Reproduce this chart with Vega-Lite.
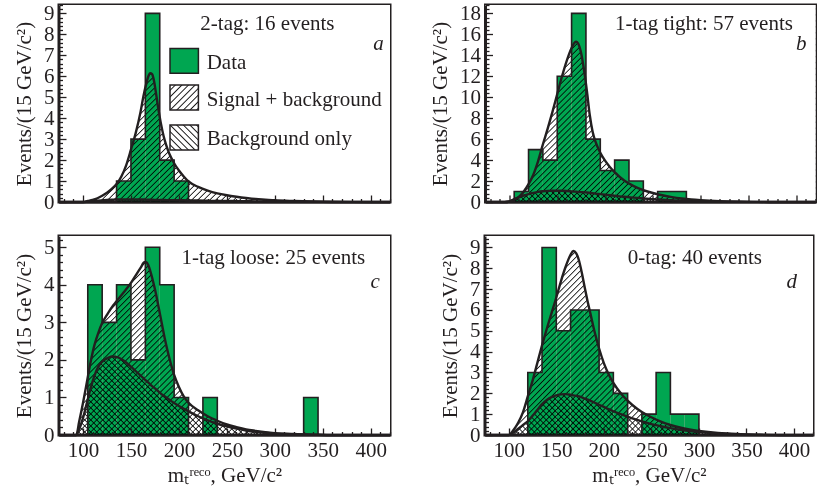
{
"$schema":"https://vega.github.io/schema/vega-lite/v6.json",
"background":"white",
"padding":{"left":12,"top":0,"right":2,"bottom":2},
"params":[
{"name":"hatchA","value":{"gradient":"linear","x1":0,"y1":0,"x2":1.335,"y2":0.799,"stops":[
{"offset":0,"color":"transparent"},{"offset":0.006,"color":"transparent"},{"offset":0.008,"color":"#1a1a1a"},
{"offset":0.01,"color":"transparent"},{"offset":0.016,"color":"transparent"},{"offset":0.018,"color":"#1a1a1a"},
{"offset":0.02,"color":"transparent"},{"offset":0.026,"color":"transparent"},{"offset":0.028,"color":"#1a1a1a"},
{"offset":0.03,"color":"transparent"},{"offset":0.036,"color":"transparent"},{"offset":0.038,"color":"#1a1a1a"},
{"offset":0.04,"color":"transparent"},{"offset":0.046,"color":"transparent"},{"offset":0.048,"color":"#1a1a1a"},
{"offset":0.05,"color":"transparent"},{"offset":0.056,"color":"transparent"},{"offset":0.058,"color":"#1a1a1a"},
{"offset":0.06,"color":"transparent"},{"offset":0.066,"color":"transparent"},{"offset":0.068,"color":"#1a1a1a"},
{"offset":0.07,"color":"transparent"},{"offset":0.076,"color":"transparent"},{"offset":0.078,"color":"#1a1a1a"},
{"offset":0.08,"color":"transparent"},{"offset":0.086,"color":"transparent"},{"offset":0.088,"color":"#1a1a1a"},
{"offset":0.09,"color":"transparent"},{"offset":0.096,"color":"transparent"},{"offset":0.098,"color":"#1a1a1a"},
{"offset":0.1,"color":"transparent"},{"offset":0.106,"color":"transparent"},{"offset":0.108,"color":"#1a1a1a"},
{"offset":0.11,"color":"transparent"},{"offset":0.116,"color":"transparent"},{"offset":0.118,"color":"#1a1a1a"},
{"offset":0.12,"color":"transparent"},{"offset":0.126,"color":"transparent"},{"offset":0.128,"color":"#1a1a1a"},
{"offset":0.13,"color":"transparent"},{"offset":0.136,"color":"transparent"},{"offset":0.138,"color":"#1a1a1a"},
{"offset":0.14,"color":"transparent"},{"offset":0.146,"color":"transparent"},{"offset":0.148,"color":"#1a1a1a"},
{"offset":0.15,"color":"transparent"},{"offset":0.156,"color":"transparent"},{"offset":0.158,"color":"#1a1a1a"},
{"offset":0.16,"color":"transparent"},{"offset":0.166,"color":"transparent"},{"offset":0.168,"color":"#1a1a1a"},
{"offset":0.17,"color":"transparent"},{"offset":0.176,"color":"transparent"},{"offset":0.178,"color":"#1a1a1a"},
{"offset":0.18,"color":"transparent"},{"offset":0.186,"color":"transparent"},{"offset":0.188,"color":"#1a1a1a"},
{"offset":0.19,"color":"transparent"},{"offset":0.196,"color":"transparent"},{"offset":0.198,"color":"#1a1a1a"},
{"offset":0.2,"color":"transparent"},{"offset":0.206,"color":"transparent"},{"offset":0.208,"color":"#1a1a1a"},
{"offset":0.21,"color":"transparent"},{"offset":0.216,"color":"transparent"},{"offset":0.218,"color":"#1a1a1a"},
{"offset":0.22,"color":"transparent"},{"offset":0.226,"color":"transparent"},{"offset":0.228,"color":"#1a1a1a"},
{"offset":0.23,"color":"transparent"},{"offset":0.236,"color":"transparent"},{"offset":0.238,"color":"#1a1a1a"},
{"offset":0.24,"color":"transparent"},{"offset":0.246,"color":"transparent"},{"offset":0.248,"color":"#1a1a1a"},
{"offset":0.25,"color":"transparent"},{"offset":0.256,"color":"transparent"},{"offset":0.258,"color":"#1a1a1a"},
{"offset":0.26,"color":"transparent"},{"offset":0.266,"color":"transparent"},{"offset":0.268,"color":"#1a1a1a"},
{"offset":0.27,"color":"transparent"},{"offset":0.276,"color":"transparent"},{"offset":0.278,"color":"#1a1a1a"},
{"offset":0.28,"color":"transparent"},{"offset":0.286,"color":"transparent"},{"offset":0.288,"color":"#1a1a1a"},
{"offset":0.29,"color":"transparent"},{"offset":0.296,"color":"transparent"},{"offset":0.298,"color":"#1a1a1a"},
{"offset":0.3,"color":"transparent"},{"offset":0.306,"color":"transparent"},{"offset":0.308,"color":"#1a1a1a"},
{"offset":0.31,"color":"transparent"},{"offset":0.316,"color":"transparent"},{"offset":0.318,"color":"#1a1a1a"},
{"offset":0.32,"color":"transparent"},{"offset":0.326,"color":"transparent"},{"offset":0.328,"color":"#1a1a1a"},
{"offset":0.33,"color":"transparent"},{"offset":0.336,"color":"transparent"},{"offset":0.338,"color":"#1a1a1a"},
{"offset":0.34,"color":"transparent"},{"offset":0.346,"color":"transparent"},{"offset":0.348,"color":"#1a1a1a"},
{"offset":0.35,"color":"transparent"},{"offset":0.356,"color":"transparent"},{"offset":0.358,"color":"#1a1a1a"},
{"offset":0.36,"color":"transparent"},{"offset":0.366,"color":"transparent"},{"offset":0.368,"color":"#1a1a1a"},
{"offset":0.37,"color":"transparent"},{"offset":0.376,"color":"transparent"},{"offset":0.378,"color":"#1a1a1a"},
{"offset":0.38,"color":"transparent"},{"offset":0.386,"color":"transparent"},{"offset":0.388,"color":"#1a1a1a"},
{"offset":0.39,"color":"transparent"},{"offset":0.396,"color":"transparent"},{"offset":0.398,"color":"#1a1a1a"},
{"offset":0.4,"color":"transparent"},{"offset":0.406,"color":"transparent"},{"offset":0.408,"color":"#1a1a1a"},
{"offset":0.41,"color":"transparent"},{"offset":0.416,"color":"transparent"},{"offset":0.418,"color":"#1a1a1a"},
{"offset":0.42,"color":"transparent"},{"offset":0.426,"color":"transparent"},{"offset":0.428,"color":"#1a1a1a"},
{"offset":0.43,"color":"transparent"},{"offset":0.436,"color":"transparent"},{"offset":0.438,"color":"#1a1a1a"},
{"offset":0.44,"color":"transparent"},{"offset":0.446,"color":"transparent"},{"offset":0.448,"color":"#1a1a1a"},
{"offset":0.45,"color":"transparent"},{"offset":0.456,"color":"transparent"},{"offset":0.458,"color":"#1a1a1a"},
{"offset":0.46,"color":"transparent"},{"offset":0.466,"color":"transparent"},{"offset":0.468,"color":"#1a1a1a"},
{"offset":0.47,"color":"transparent"},{"offset":0.476,"color":"transparent"},{"offset":0.478,"color":"#1a1a1a"},
{"offset":0.48,"color":"transparent"},{"offset":0.486,"color":"transparent"},{"offset":0.488,"color":"#1a1a1a"},
{"offset":0.49,"color":"transparent"},{"offset":0.496,"color":"transparent"},{"offset":0.498,"color":"#1a1a1a"},
{"offset":0.5,"color":"transparent"},{"offset":0.506,"color":"transparent"},{"offset":0.508,"color":"#1a1a1a"},
{"offset":0.51,"color":"transparent"},{"offset":0.516,"color":"transparent"},{"offset":0.518,"color":"#1a1a1a"},
{"offset":0.52,"color":"transparent"},{"offset":0.526,"color":"transparent"},{"offset":0.528,"color":"#1a1a1a"},
{"offset":0.53,"color":"transparent"},{"offset":0.536,"color":"transparent"},{"offset":0.538,"color":"#1a1a1a"},
{"offset":0.54,"color":"transparent"},{"offset":0.546,"color":"transparent"},{"offset":0.548,"color":"#1a1a1a"},
{"offset":0.55,"color":"transparent"},{"offset":0.556,"color":"transparent"},{"offset":0.558,"color":"#1a1a1a"},
{"offset":0.56,"color":"transparent"},{"offset":0.566,"color":"transparent"},{"offset":0.568,"color":"#1a1a1a"},
{"offset":0.57,"color":"transparent"},{"offset":0.576,"color":"transparent"},{"offset":0.578,"color":"#1a1a1a"},
{"offset":0.58,"color":"transparent"},{"offset":0.586,"color":"transparent"},{"offset":0.588,"color":"#1a1a1a"},
{"offset":0.59,"color":"transparent"},{"offset":0.596,"color":"transparent"},{"offset":0.598,"color":"#1a1a1a"},
{"offset":0.6,"color":"transparent"},{"offset":0.606,"color":"transparent"},{"offset":0.608,"color":"#1a1a1a"},
{"offset":0.61,"color":"transparent"},{"offset":0.616,"color":"transparent"},{"offset":0.618,"color":"#1a1a1a"},
{"offset":0.62,"color":"transparent"},{"offset":0.626,"color":"transparent"},{"offset":0.628,"color":"#1a1a1a"},
{"offset":0.63,"color":"transparent"},{"offset":0.636,"color":"transparent"},{"offset":0.638,"color":"#1a1a1a"},
{"offset":0.64,"color":"transparent"},{"offset":0.646,"color":"transparent"},{"offset":0.648,"color":"#1a1a1a"},
{"offset":0.65,"color":"transparent"},{"offset":0.656,"color":"transparent"},{"offset":0.658,"color":"#1a1a1a"},
{"offset":0.66,"color":"transparent"},{"offset":0.666,"color":"transparent"},{"offset":0.668,"color":"#1a1a1a"},
{"offset":0.67,"color":"transparent"},{"offset":0.676,"color":"transparent"},{"offset":0.678,"color":"#1a1a1a"},
{"offset":0.68,"color":"transparent"},{"offset":0.686,"color":"transparent"},{"offset":0.688,"color":"#1a1a1a"},
{"offset":0.69,"color":"transparent"},{"offset":0.696,"color":"transparent"},{"offset":0.698,"color":"#1a1a1a"},
{"offset":0.7,"color":"transparent"},{"offset":0.706,"color":"transparent"},{"offset":0.708,"color":"#1a1a1a"},
{"offset":0.71,"color":"transparent"},{"offset":0.716,"color":"transparent"},{"offset":0.718,"color":"#1a1a1a"},
{"offset":0.72,"color":"transparent"},{"offset":0.726,"color":"transparent"},{"offset":0.728,"color":"#1a1a1a"},
{"offset":0.73,"color":"transparent"},{"offset":0.736,"color":"transparent"},{"offset":0.738,"color":"#1a1a1a"},
{"offset":0.74,"color":"transparent"},{"offset":0.746,"color":"transparent"},{"offset":0.748,"color":"#1a1a1a"},
{"offset":0.75,"color":"transparent"},{"offset":0.756,"color":"transparent"},{"offset":0.758,"color":"#1a1a1a"},
{"offset":0.76,"color":"transparent"},{"offset":0.766,"color":"transparent"},{"offset":0.768,"color":"#1a1a1a"},
{"offset":0.77,"color":"transparent"},{"offset":0.776,"color":"transparent"},{"offset":0.778,"color":"#1a1a1a"},
{"offset":0.78,"color":"transparent"},{"offset":0.786,"color":"transparent"},{"offset":0.788,"color":"#1a1a1a"},
{"offset":0.79,"color":"transparent"},{"offset":0.796,"color":"transparent"},{"offset":0.798,"color":"#1a1a1a"},
{"offset":0.8,"color":"transparent"},{"offset":0.806,"color":"transparent"},{"offset":0.808,"color":"#1a1a1a"},
{"offset":0.81,"color":"transparent"},{"offset":0.816,"color":"transparent"},{"offset":0.818,"color":"#1a1a1a"},
{"offset":0.82,"color":"transparent"},{"offset":0.826,"color":"transparent"},{"offset":0.828,"color":"#1a1a1a"},
{"offset":0.83,"color":"transparent"},{"offset":0.836,"color":"transparent"},{"offset":0.838,"color":"#1a1a1a"},
{"offset":0.84,"color":"transparent"},{"offset":0.846,"color":"transparent"},{"offset":0.848,"color":"#1a1a1a"},
{"offset":0.85,"color":"transparent"},{"offset":0.856,"color":"transparent"},{"offset":0.858,"color":"#1a1a1a"},
{"offset":0.86,"color":"transparent"},{"offset":0.866,"color":"transparent"},{"offset":0.868,"color":"#1a1a1a"},
{"offset":0.87,"color":"transparent"},{"offset":0.876,"color":"transparent"},{"offset":0.878,"color":"#1a1a1a"},
{"offset":0.88,"color":"transparent"},{"offset":0.886,"color":"transparent"},{"offset":0.888,"color":"#1a1a1a"},
{"offset":0.89,"color":"transparent"}]}},
{"name":"hatchB","expr":"merge(hatchA, {x1: 0, y1: 1, x2: 1.335, y2: 0.201})"},
{"name":"legA","value":{"gradient":"linear","x1":0,"y1":0,"x2":1.314,"y2":1.152,"stops":[
{"offset":0,"color":"transparent"},{"offset":0.06,"color":"transparent"},{"offset":0.08,"color":"#1a1a1a"},
{"offset":0.1,"color":"transparent"},{"offset":0.16,"color":"transparent"},{"offset":0.18,"color":"#1a1a1a"},
{"offset":0.2,"color":"transparent"},{"offset":0.26,"color":"transparent"},{"offset":0.28,"color":"#1a1a1a"},
{"offset":0.3,"color":"transparent"},{"offset":0.36,"color":"transparent"},{"offset":0.38,"color":"#1a1a1a"},
{"offset":0.4,"color":"transparent"},{"offset":0.46,"color":"transparent"},{"offset":0.48,"color":"#1a1a1a"},
{"offset":0.5,"color":"transparent"},{"offset":0.56,"color":"transparent"},{"offset":0.58,"color":"#1a1a1a"},
{"offset":0.6,"color":"transparent"},{"offset":0.66,"color":"transparent"},{"offset":0.68,"color":"#1a1a1a"},
{"offset":0.7,"color":"transparent"},{"offset":0.76,"color":"transparent"},{"offset":0.78,"color":"#1a1a1a"},
{"offset":0.8,"color":"transparent"},{"offset":0.86,"color":"transparent"},{"offset":0.88,"color":"#1a1a1a"},
{"offset":0.9,"color":"transparent"}]}},
{"name":"legB","expr":"merge(legA, {x1: 0, y1: 1, x2: 1.314, y2: -0.152})"}
],
"datasets":{
"a_bins":[{"lo":90,"hi":105,"n":0},{"lo":105,"hi":120,"n":0},{"lo":120,"hi":135,"n":0},{"lo":135,"hi":150,"n":1},{"lo":150,"hi":165,"n":3},{"lo":165,"hi":180,"n":9},{"lo":180,"hi":195,"n":2},{"lo":195,"hi":210,"n":1},{"lo":210,"hi":225,"n":0}],
"b_bins":[{"lo":90,"hi":105,"n":0},{"lo":105,"hi":120,"n":1},{"lo":120,"hi":135,"n":5},{"lo":135,"hi":150,"n":4},{"lo":150,"hi":165,"n":12},{"lo":165,"hi":180,"n":18},{"lo":180,"hi":195,"n":6},{"lo":195,"hi":210,"n":3},{"lo":210,"hi":225,"n":4},{"lo":225,"hi":240,"n":2},{"lo":240,"hi":255,"n":0},{"lo":255,"hi":270,"n":1},{"lo":270,"hi":285,"n":1},{"lo":285,"hi":300,"n":0}],
"c_bins":[{"lo":90,"hi":105,"n":0},{"lo":105,"hi":120,"n":4},{"lo":120,"hi":135,"n":3},{"lo":135,"hi":150,"n":4},{"lo":150,"hi":165,"n":2},{"lo":165,"hi":180,"n":5},{"lo":180,"hi":195,"n":4},{"lo":195,"hi":210,"n":1},{"lo":210,"hi":225,"n":0},{"lo":225,"hi":240,"n":1},{"lo":240,"hi":255,"n":0},{"lo":255,"hi":270,"n":0},{"lo":270,"hi":285,"n":0},{"lo":285,"hi":300,"n":0},{"lo":300,"hi":315,"n":0},{"lo":315,"hi":330,"n":0},{"lo":330,"hi":345,"n":1},{"lo":345,"hi":360,"n":0}],
"d_bins":[{"lo":90,"hi":105,"n":0},{"lo":105,"hi":120,"n":0},{"lo":120,"hi":135,"n":3},{"lo":135,"hi":150,"n":9},{"lo":150,"hi":165,"n":5},{"lo":165,"hi":180,"n":6},{"lo":180,"hi":195,"n":6},{"lo":195,"hi":210,"n":3},{"lo":210,"hi":225,"n":2},{"lo":225,"hi":240,"n":0},{"lo":240,"hi":255,"n":1},{"lo":255,"hi":270,"n":3},{"lo":270,"hi":285,"n":1},{"lo":285,"hi":300,"n":1},{"lo":300,"hi":315,"n":0}],
"a_curve":[{"g":75,"sb":0,"b":0},{"g":95,"sb":0,"b":0},{"g":100,"sb":0,"b":0},{"g":105,"sb":0.05,"b":0.02},{"g":110,"sb":0.1,"b":0.04},{"g":115,"sb":0.18,"b":0.06},{"g":120,"sb":0.3,"b":0.08},{"g":125,"sb":0.44,"b":0.1},{"g":130,"sb":0.62,"b":0.11},{"g":135,"sb":0.86,"b":0.12},{"g":140,"sb":1.22,"b":0.12},{"g":145,"sb":1.75,"b":0.12},{"g":150,"sb":2.5,"b":0.12},{"g":155,"sb":3.3,"b":0.12},{"g":160,"sb":4.3,"b":0.12},{"g":163,"sb":5.05,"b":0.12},{"g":166,"sb":5.65,"b":0.11},{"g":168,"sb":5.98,"b":0.11},{"g":170,"sb":6.15,"b":0.11},{"g":172,"sb":6.1,"b":0.11},{"g":174,"sb":5.78,"b":0.1},{"g":176,"sb":5.22,"b":0.1},{"g":178,"sb":4.6,"b":0.1},{"g":181,"sb":3.8,"b":0.1},{"g":184,"sb":3.15,"b":0.1},{"g":187,"sb":2.68,"b":0.09},{"g":190,"sb":2.3,"b":0.09},{"g":195,"sb":1.85,"b":0.09},{"g":200,"sb":1.5,"b":0.08},{"g":205,"sb":1.22,"b":0.08},{"g":210,"sb":0.98,"b":0.07},{"g":220,"sb":0.72,"b":0.07},{"g":230,"sb":0.54,"b":0.06},{"g":240,"sb":0.41,"b":0.05},{"g":250,"sb":0.32,"b":0.05},{"g":260,"sb":0.25,"b":0.04},{"g":270,"sb":0.19,"b":0.04},{"g":280,"sb":0.14,"b":0.03},{"g":290,"sb":0.11,"b":0.03},{"g":300,"sb":0.08,"b":0.02},{"g":320,"sb":0.05,"b":0.01},{"g":340,"sb":0.03,"b":0.01},{"g":360,"sb":0.015,"b":0},{"g":380,"sb":0.005,"b":0},{"g":400,"sb":0,"b":0},{"g":420,"sb":0,"b":0}],
"b_curve":[{"g":75,"sb":0,"b":0},{"g":95,"sb":0,"b":0},{"g":100,"sb":0.05,"b":0.05},{"g":105,"sb":0.25,"b":0.25},{"g":110,"sb":0.5,"b":0.45},{"g":115,"sb":1.0,"b":0.62},{"g":120,"sb":1.7,"b":0.76},{"g":125,"sb":2.6,"b":0.87},{"g":130,"sb":3.9,"b":0.96},{"g":135,"sb":5.5,"b":1.02},{"g":140,"sb":7.0,"b":1.06},{"g":145,"sb":8.6,"b":1.08},{"g":150,"sb":10.3,"b":1.08},{"g":155,"sb":12.0,"b":1.07},{"g":160,"sb":13.5,"b":1.05},{"g":165,"sb":14.7,"b":1.01},{"g":168,"sb":15.2,"b":0.99},{"g":170,"sb":15.3,"b":0.98},{"g":172,"sb":15.1,"b":0.96},{"g":175,"sb":14.2,"b":0.94},{"g":178,"sb":12.6,"b":0.92},{"g":181,"sb":10.6,"b":0.9},{"g":184,"sb":8.3,"b":0.87},{"g":187,"sb":6.7,"b":0.84},{"g":190,"sb":5.75,"b":0.8},{"g":195,"sb":4.7,"b":0.75},{"g":200,"sb":3.95,"b":0.7},{"g":205,"sb":3.35,"b":0.65},{"g":210,"sb":2.85,"b":0.6},{"g":220,"sb":2.05,"b":0.5},{"g":230,"sb":1.52,"b":0.42},{"g":240,"sb":1.14,"b":0.34},{"g":250,"sb":0.86,"b":0.27},{"g":260,"sb":0.64,"b":0.21},{"g":270,"sb":0.47,"b":0.16},{"g":280,"sb":0.34,"b":0.12},{"g":290,"sb":0.24,"b":0.09},{"g":300,"sb":0.17,"b":0.07},{"g":320,"sb":0.08,"b":0.04},{"g":340,"sb":0.035,"b":0.02},{"g":360,"sb":0.012,"b":0.01},{"g":380,"sb":0,"b":0},{"g":420,"sb":0,"b":0}],
"c_curve":[{"g":75,"sb":0,"b":0},{"g":90,"sb":0,"b":0},{"g":93,"sb":0,"b":0},{"g":96,"sb":0.35,"b":0.15},{"g":100,"sb":0.85,"b":0.45},{"g":104,"sb":1.4,"b":0.85},{"g":108,"sb":1.95,"b":1.25},{"g":112,"sb":2.4,"b":1.58},{"g":116,"sb":2.72,"b":1.82},{"g":120,"sb":2.98,"b":1.95},{"g":125,"sb":3.2,"b":2.04},{"g":130,"sb":3.4,"b":2.09},{"g":135,"sb":3.56,"b":2.08},{"g":140,"sb":3.72,"b":2.02},{"g":145,"sb":3.88,"b":1.93},{"g":150,"sb":4.05,"b":1.82},{"g":155,"sb":4.25,"b":1.7},{"g":160,"sb":4.45,"b":1.58},{"g":164,"sb":4.6,"b":1.49},{"g":166,"sb":4.6,"b":1.44},{"g":168,"sb":4.53,"b":1.4},{"g":170,"sb":4.38,"b":1.35},{"g":175,"sb":3.88,"b":1.24},{"g":180,"sb":3.25,"b":1.13},{"g":185,"sb":2.6,"b":1.03},{"g":190,"sb":2.05,"b":0.94},{"g":195,"sb":1.6,"b":0.85},{"g":200,"sb":1.28,"b":0.77},{"g":205,"sb":1.03,"b":0.7},{"g":210,"sb":0.86,"b":0.63},{"g":220,"sb":0.66,"b":0.5},{"g":230,"sb":0.5,"b":0.39},{"g":240,"sb":0.38,"b":0.3},{"g":250,"sb":0.28,"b":0.23},{"g":260,"sb":0.21,"b":0.17},{"g":270,"sb":0.15,"b":0.12},{"g":280,"sb":0.11,"b":0.085},{"g":290,"sb":0.075,"b":0.06},{"g":300,"sb":0.05,"b":0.04},{"g":320,"sb":0.025,"b":0.02},{"g":340,"sb":0.01,"b":0.01},{"g":360,"sb":0,"b":0},{"g":420,"sb":0,"b":0}],
"d_curve":[{"g":75,"sb":0,"b":0},{"g":95,"sb":0,"b":0},{"g":100,"sb":0,"b":0},{"g":105,"sb":0.24,"b":0.12},{"g":110,"sb":0.6,"b":0.3},{"g":115,"sb":1.1,"b":0.48},{"g":120,"sb":1.85,"b":0.66},{"g":125,"sb":2.6,"b":0.92},{"g":130,"sb":3.45,"b":1.2},{"g":135,"sb":4.3,"b":1.48},{"g":140,"sb":5.1,"b":1.68},{"g":145,"sb":5.85,"b":1.82},{"g":150,"sb":6.6,"b":1.9},{"g":155,"sb":7.4,"b":1.95},{"g":160,"sb":8.1,"b":1.96},{"g":165,"sb":8.65,"b":1.93},{"g":168,"sb":8.83,"b":1.9},{"g":171,"sb":8.72,"b":1.88},{"g":174,"sb":8.35,"b":1.85},{"g":177,"sb":7.75,"b":1.8},{"g":180,"sb":7.05,"b":1.75},{"g":183,"sb":6.4,"b":1.7},{"g":186,"sb":5.8,"b":1.64},{"g":190,"sb":5.0,"b":1.56},{"g":195,"sb":4.15,"b":1.45},{"g":200,"sb":3.45,"b":1.35},{"g":205,"sb":2.92,"b":1.24},{"g":210,"sb":2.5,"b":1.14},{"g":220,"sb":1.88,"b":0.96},{"g":230,"sb":1.44,"b":0.8},{"g":240,"sb":1.1,"b":0.65},{"g":250,"sb":0.85,"b":0.52},{"g":260,"sb":0.64,"b":0.42},{"g":270,"sb":0.48,"b":0.33},{"g":280,"sb":0.36,"b":0.25},{"g":290,"sb":0.27,"b":0.19},{"g":300,"sb":0.2,"b":0.14},{"g":320,"sb":0.1,"b":0.07},{"g":340,"sb":0.045,"b":0.03},{"g":360,"sb":0.018,"b":0.012},{"g":380,"sb":0.005,"b":0},{"g":400,"sb":0,"b":0},{"g":420,"sb":0,"b":0}]
},
"config":{
"view":{"stroke":"#231f20","strokeWidth":3},
"font":"Liberation Serif",
"axis":{"grid":false,"domainColor":"#231f20","domainWidth":2,"tickColor":"#231f20","tickWidth":1.3,"tickSize":-7,"tickCount":200,"labelFont":"Liberation Serif","labelFontSize":21,"labelColor":"#231f20","titleFont":"Liberation Serif","titleFontSize":21,"titleFontWeight":"normal","titleColor":"#231f20","labelOverlap":false,"labelSeparation":-1000,"labelFlush":false,"zindex":1}
},
"spacing":20,
"vconcat":[
{"spacing":30.5,"hconcat":[
{"width":331,"height":197,"layer":[
{"data":{"values":[{}]},"mark":{"type":"rect","fill":{"expr":"hatchB"},"strokeWidth":0},"encoding":{"x":{"datum":75,"type":"quantitative"},"x2":{"datum":420},"y":{"datum":0,"type":"quantitative"},"y2":{"datum":9.4}}},
{"data":{"name":"a_curve"},"mark":{"type":"area","color":"white","fill":"white","opacity":1,"interpolate":"monotone"},"encoding":{"x":{"field":"g","type":"quantitative"},"y":{"field":"b","type":"quantitative"},"y2":{"datum":9.4}}},
{"data":{"values":[{}]},"mark":{"type":"rect","fill":{"expr":"hatchA"},"strokeWidth":0},"encoding":{"x":{"datum":75,"type":"quantitative"},"x2":{"datum":420},"y":{"datum":0,"type":"quantitative"},"y2":{"datum":9.4}}},
{"data":{"name":"a_curve"},"mark":{"type":"area","color":"white","fill":"white","opacity":1,"interpolate":"monotone"},"encoding":{"x":{"field":"g","type":"quantitative"},"y":{"field":"sb","type":"quantitative"},"y2":{"datum":9.4}}},
{"data":{"name":"a_bins"},"mark":{"type":"rect","fill":"#00a651","blend":"multiply"},"encoding":{
"x":{"field":"lo","type":"quantitative","scale":{"domain":[75,420],"nice":false,"zero":false},"axis":{"values":[80,90,100,110,120,130,140,150,160,170,180,190,200,210,220,230,240,250,260,270,280,290,300,310,320,330,340,350,360,370,380,390,400,410,420],"tickCount":200,"tickSize":-7,"tickDash":{"condition":{"test":"datum.value % 50 === 0","value":[]},"value":[3.5,20]},"labels":false,"labelOverlap":false,"zindex":1,"title":null}},
"x2":{"field":"hi"},
"y":{"field":"n","type":"quantitative","scale":{"domain":[0,9.4],"nice":false},"axis":{"values":[0,0.2,0.4,0.6,0.8,1,1.2,1.4,1.6,1.8,2,2.2,2.4,2.6,2.8,3,3.2,3.4,3.6,3.8,4,4.2,4.4,4.6,4.8,5,5.2,5.4,5.6,5.8,6,6.2,6.4,6.6,6.8,7,7.2,7.4,7.6,7.8,8,8.2,8.4,8.6,8.8,9,9.2,9.4],"tickCount":200,"tickSize":-7,"tickDash":{"condition":{"test":"abs(datum.value - round(datum.value)) < 0.001","value":[]},"value":[3.5,20]},"labelExpr":"abs(datum.value - round(datum.value)) < 0.001 ? toString(round(datum.value)) : ''","labelFontSize":{"condition":{"test":"abs(datum.value - round(datum.value)) < 0.001","value":21},"value":0},"labelOverlap":false,"zindex":1,"labelPadding":12,"title":"Events/(15 GeV/c²)","titlePadding":9}},
"y2":{"datum":0}}},
{"data":{"name":"a_bins"},"mark":{"type":"line","interpolate":"step-after","color":"#231f20","strokeWidth":1.6},"encoding":{"x":{"field":"lo","type":"quantitative"},"y":{"field":"n","type":"quantitative"}}},
{"data":{"name":"a_curve"},"mark":{"type":"line","interpolate":"monotone","color":"#231f20","strokeWidth":2.4},"encoding":{"x":{"field":"g","type":"quantitative"},"y":{"field":"sb","type":"quantitative"}}},
{"data":{"name":"a_curve"},"mark":{"type":"line","interpolate":"monotone","color":"#231f20","strokeWidth":2.4},"encoding":{"x":{"field":"g","type":"quantitative"},"y":{"field":"b","type":"quantitative"}}},
{"data":{"values":[{}]},"mark":{"type":"text","text":"2-tag: 16 events","font":"Liberation Serif","fontSize":21,"color":"#231f20","align":"center","baseline":"alphabetic"},"encoding":{"x":{"datum":292.2,"type":"quantitative"},"y":{"datum":8.22,"type":"quantitative"}}},
{"data":{"values":[{}]},"mark":{"type":"text","text":"a","font":"Liberation Serif","fontSize":21,"fontStyle":"italic","color":"#231f20","align":"right","baseline":"alphabetic"},"encoding":{"x":{"datum":413.4,"type":"quantitative"},"y":{"datum":7.25,"type":"quantitative"}}},
{"data":{"values":[{}]},"mark":{"type":"rect","fill":"#00a651","stroke":"#231f20","strokeWidth":1.5},"encoding":{"x":{"datum":190.7,"type":"quantitative"},"x2":{"datum":220.3},"y":{"datum":7.33,"type":"quantitative"},"y2":{"datum":6.14}}},
{"data":{"values":[{}]},"mark":{"type":"rect","fill":{"expr":"legA"},"stroke":"#231f20","strokeWidth":1.5},"encoding":{"x":{"datum":190.7,"type":"quantitative"},"x2":{"datum":220.3},"y":{"datum":5.58,"type":"quantitative"},"y2":{"datum":4.39}}},
{"data":{"values":[{}]},"mark":{"type":"rect","fill":{"expr":"legB"},"stroke":"#231f20","strokeWidth":1.5},"encoding":{"x":{"datum":190.7,"type":"quantitative"},"x2":{"datum":220.3},"y":{"datum":3.67,"type":"quantitative"},"y2":{"datum":2.48}}},
{"data":{"values":[{}]},"mark":{"type":"text","text":"Data","font":"Liberation Serif","fontSize":21,"color":"#231f20","align":"left","baseline":"alphabetic"},"encoding":{"x":{"datum":228.9,"type":"quantitative"},"y":{"datum":6.37,"type":"quantitative"}}},
{"data":{"values":[{}]},"mark":{"type":"text","text":"Signal + background","font":"Liberation Serif","fontSize":21,"color":"#231f20","align":"left","baseline":"alphabetic"},"encoding":{"x":{"datum":228.9,"type":"quantitative"},"y":{"datum":4.58,"type":"quantitative"}}},
{"data":{"values":[{}]},"mark":{"type":"text","text":"Background only","font":"Liberation Serif","fontSize":21,"color":"#231f20","align":"left","baseline":"alphabetic"},"encoding":{"x":{"datum":228.9,"type":"quantitative"},"y":{"datum":2.72,"type":"quantitative"}}}
]},
{"width":330,"height":197,"layer":[
{"data":{"values":[{}]},"mark":{"type":"rect","fill":{"expr":"hatchB"},"strokeWidth":0},"encoding":{"x":{"datum":75,"type":"quantitative"},"x2":{"datum":420},"y":{"datum":0,"type":"quantitative"},"y2":{"datum":18.8}}},
{"data":{"name":"b_curve"},"mark":{"type":"area","color":"white","fill":"white","opacity":1,"interpolate":"monotone"},"encoding":{"x":{"field":"g","type":"quantitative"},"y":{"field":"b","type":"quantitative"},"y2":{"datum":18.8}}},
{"data":{"values":[{}]},"mark":{"type":"rect","fill":{"expr":"hatchA"},"strokeWidth":0},"encoding":{"x":{"datum":75,"type":"quantitative"},"x2":{"datum":420},"y":{"datum":0,"type":"quantitative"},"y2":{"datum":18.8}}},
{"data":{"name":"b_curve"},"mark":{"type":"area","color":"white","fill":"white","opacity":1,"interpolate":"monotone"},"encoding":{"x":{"field":"g","type":"quantitative"},"y":{"field":"sb","type":"quantitative"},"y2":{"datum":18.8}}},
{"data":{"name":"b_bins"},"mark":{"type":"rect","fill":"#00a651","blend":"multiply"},"encoding":{
"x":{"field":"lo","type":"quantitative","scale":{"domain":[75,420],"nice":false,"zero":false},"axis":{"values":[80,90,100,110,120,130,140,150,160,170,180,190,200,210,220,230,240,250,260,270,280,290,300,310,320,330,340,350,360,370,380,390,400,410,420],"tickCount":200,"tickSize":-7,"tickDash":{"condition":{"test":"datum.value % 50 === 0","value":[]},"value":[3.5,20]},"labels":false,"labelOverlap":false,"zindex":1,"title":null}},
"x2":{"field":"hi"},
"y":{"field":"n","type":"quantitative","scale":{"domain":[0,18.8],"nice":false},"axis":{"values":[0,0.4,0.8,1.2,1.6,2,2.4,2.8,3.2,3.6,4,4.4,4.8,5.2,5.6,6,6.4,6.8,7.2,7.6,8,8.4,8.8,9.2,9.6,10,10.4,10.8,11.2,11.6,12,12.4,12.8,13.2,13.6,14,14.4,14.8,15.2,15.6,16,16.4,16.8,17.2,17.6,18,18.4,18.8],"tickCount":200,"tickSize":-7,"tickDash":{"condition":{"test":"abs(datum.value / 2 - round(datum.value / 2)) < 0.001","value":[]},"value":[3.5,20]},"labelExpr":"abs(datum.value / 2 - round(datum.value / 2)) < 0.001 ? toString(round(datum.value)) : ''","labelFontSize":{"condition":{"test":"abs(datum.value / 2 - round(datum.value / 2)) < 0.001","value":21},"value":0},"labelOverlap":false,"zindex":1,"labelPadding":12,"title":"Events/(15 GeV/c²)","titlePadding":9}},
"y2":{"datum":0}}},
{"data":{"name":"b_bins"},"mark":{"type":"line","interpolate":"step-after","color":"#231f20","strokeWidth":1.6},"encoding":{"x":{"field":"lo","type":"quantitative"},"y":{"field":"n","type":"quantitative"}}},
{"data":{"name":"b_curve"},"mark":{"type":"line","interpolate":"monotone","color":"#231f20","strokeWidth":2.4},"encoding":{"x":{"field":"g","type":"quantitative"},"y":{"field":"sb","type":"quantitative"}}},
{"data":{"name":"b_curve"},"mark":{"type":"line","interpolate":"monotone","color":"#231f20","strokeWidth":2.4},"encoding":{"x":{"field":"g","type":"quantitative"},"y":{"field":"b","type":"quantitative"}}},
{"data":{"values":[{}]},"mark":{"type":"text","text":"1-tag tight: 57 events","font":"Liberation Serif","fontSize":21,"color":"#231f20","align":"center","baseline":"alphabetic"},"encoding":{"x":{"datum":303.4,"type":"quantitative"},"y":{"datum":16.41,"type":"quantitative"}}},
{"data":{"values":[{}]},"mark":{"type":"text","text":"b","font":"Liberation Serif","fontSize":21,"fontStyle":"italic","color":"#231f20","align":"right","baseline":"alphabetic"},"encoding":{"x":{"datum":410.6,"type":"quantitative"},"y":{"datum":14.51,"type":"quantitative"}}}
]}
]},
{"spacing":41,"hconcat":[
{"width":331,"height":199,"layer":[
{"data":{"values":[{}]},"mark":{"type":"rect","fill":{"expr":"hatchB"},"strokeWidth":0},"encoding":{"x":{"datum":75,"type":"quantitative"},"x2":{"datum":420},"y":{"datum":0,"type":"quantitative"},"y2":{"datum":5.3}}},
{"data":{"name":"c_curve"},"mark":{"type":"area","color":"white","fill":"white","opacity":1,"interpolate":"monotone"},"encoding":{"x":{"field":"g","type":"quantitative"},"y":{"field":"b","type":"quantitative"},"y2":{"datum":5.3}}},
{"data":{"values":[{}]},"mark":{"type":"rect","fill":{"expr":"hatchA"},"strokeWidth":0},"encoding":{"x":{"datum":75,"type":"quantitative"},"x2":{"datum":420},"y":{"datum":0,"type":"quantitative"},"y2":{"datum":5.3}}},
{"data":{"name":"c_curve"},"mark":{"type":"area","color":"white","fill":"white","opacity":1,"interpolate":"monotone"},"encoding":{"x":{"field":"g","type":"quantitative"},"y":{"field":"sb","type":"quantitative"},"y2":{"datum":5.3}}},
{"data":{"name":"c_bins"},"mark":{"type":"rect","fill":"#00a651","blend":"multiply"},"encoding":{
"x":{"field":"lo","type":"quantitative","scale":{"domain":[75,420],"nice":false,"zero":false},"axis":{"values":[80,90,100,110,120,130,140,150,160,170,180,190,200,210,220,230,240,250,260,270,280,290,300,310,320,330,340,350,360,370,380,390,400,410,420],"tickCount":200,"tickSize":-7,"tickDash":{"condition":{"test":"datum.value % 50 === 0","value":[]},"value":[3.5,20]},"labelExpr":"datum.value % 50 === 0 ? toString(datum.value) : ''","labelFontSize":{"condition":{"test":"datum.value % 50 === 0","value":21},"value":0},"labelOverlap":false,"zindex":1,"labelPadding":11.5,"title":"mₜʳᵉᶜᵒ, GeV/c²","titlePadding":4}},
"x2":{"field":"hi"},
"y":{"field":"n","type":"quantitative","scale":{"domain":[0,5.3],"nice":false},"axis":{"values":[0,0.2,0.4,0.6,0.8,1,1.2,1.4,1.6,1.8,2,2.2,2.4,2.6,2.8,3,3.2,3.4,3.6,3.8,4,4.2,4.4,4.6,4.8,5,5.2],"tickCount":200,"tickSize":-7,"tickDash":{"condition":{"test":"abs(datum.value - round(datum.value)) < 0.001","value":[]},"value":[3.5,20]},"labelExpr":"abs(datum.value - round(datum.value)) < 0.001 ? toString(round(datum.value)) : ''","labelFontSize":{"condition":{"test":"abs(datum.value - round(datum.value)) < 0.001","value":21},"value":0},"labelOverlap":false,"zindex":1,"labelPadding":12,"title":"Events/(15 GeV/c²)","titlePadding":9}},
"y2":{"datum":0}}},
{"data":{"name":"c_bins"},"mark":{"type":"line","interpolate":"step-after","color":"#231f20","strokeWidth":1.6},"encoding":{"x":{"field":"lo","type":"quantitative"},"y":{"field":"n","type":"quantitative"}}},
{"data":{"name":"c_curve"},"mark":{"type":"line","interpolate":"monotone","color":"#231f20","strokeWidth":2.4},"encoding":{"x":{"field":"g","type":"quantitative"},"y":{"field":"sb","type":"quantitative"}}},
{"data":{"name":"c_curve"},"mark":{"type":"line","interpolate":"monotone","color":"#231f20","strokeWidth":2.4},"encoding":{"x":{"field":"g","type":"quantitative"},"y":{"field":"b","type":"quantitative"}}},
{"data":{"values":[{}]},"mark":{"type":"text","text":"1-tag loose: 25 events","font":"Liberation Serif","fontSize":21,"color":"#231f20","align":"center","baseline":"alphabetic"},"encoding":{"x":{"datum":298.5,"type":"quantitative"},"y":{"datum":4.55,"type":"quantitative"}}},
{"data":{"values":[{}]},"mark":{"type":"text","text":"c","font":"Liberation Serif","fontSize":21,"fontStyle":"italic","color":"#231f20","align":"right","baseline":"alphabetic"},"encoding":{"x":{"datum":409.3,"type":"quantitative"},"y":{"datum":3.91,"type":"quantitative"}}}
]},
{"width":328,"height":199,"layer":[
{"data":{"values":[{}]},"mark":{"type":"rect","fill":{"expr":"hatchB"},"strokeWidth":0},"encoding":{"x":{"datum":75,"type":"quantitative"},"x2":{"datum":420},"y":{"datum":0,"type":"quantitative"},"y2":{"datum":9.55}}},
{"data":{"name":"d_curve"},"mark":{"type":"area","color":"white","fill":"white","opacity":1,"interpolate":"monotone"},"encoding":{"x":{"field":"g","type":"quantitative"},"y":{"field":"b","type":"quantitative"},"y2":{"datum":9.55}}},
{"data":{"values":[{}]},"mark":{"type":"rect","fill":{"expr":"hatchA"},"strokeWidth":0},"encoding":{"x":{"datum":75,"type":"quantitative"},"x2":{"datum":420},"y":{"datum":0,"type":"quantitative"},"y2":{"datum":9.55}}},
{"data":{"name":"d_curve"},"mark":{"type":"area","color":"white","fill":"white","opacity":1,"interpolate":"monotone"},"encoding":{"x":{"field":"g","type":"quantitative"},"y":{"field":"sb","type":"quantitative"},"y2":{"datum":9.55}}},
{"data":{"name":"d_bins"},"mark":{"type":"rect","fill":"#00a651","blend":"multiply"},"encoding":{
"x":{"field":"lo","type":"quantitative","scale":{"domain":[75,420],"nice":false,"zero":false},"axis":{"values":[80,90,100,110,120,130,140,150,160,170,180,190,200,210,220,230,240,250,260,270,280,290,300,310,320,330,340,350,360,370,380,390,400,410,420],"tickCount":200,"tickSize":-7,"tickDash":{"condition":{"test":"datum.value % 50 === 0","value":[]},"value":[3.5,20]},"labelExpr":"datum.value % 50 === 0 ? toString(datum.value) : ''","labelFontSize":{"condition":{"test":"datum.value % 50 === 0","value":21},"value":0},"labelOverlap":false,"zindex":1,"labelPadding":11.5,"title":"mₜʳᵉᶜᵒ, GeV/c²","titlePadding":4}},
"x2":{"field":"hi"},
"y":{"field":"n","type":"quantitative","scale":{"domain":[0,9.55],"nice":false},"axis":{"values":[0,0.2,0.4,0.6,0.8,1,1.2,1.4,1.6,1.8,2,2.2,2.4,2.6,2.8,3,3.2,3.4,3.6,3.8,4,4.2,4.4,4.6,4.8,5,5.2,5.4,5.6,5.8,6,6.2,6.4,6.6,6.8,7,7.2,7.4,7.6,7.8,8,8.2,8.4,8.6,8.8,9,9.2,9.4],"tickCount":200,"tickSize":-7,"tickDash":{"condition":{"test":"abs(datum.value - round(datum.value)) < 0.001","value":[]},"value":[3.5,20]},"labelExpr":"abs(datum.value - round(datum.value)) < 0.001 ? toString(round(datum.value)) : ''","labelFontSize":{"condition":{"test":"abs(datum.value - round(datum.value)) < 0.001","value":21},"value":0},"labelOverlap":false,"zindex":1,"labelPadding":12,"title":"Events/(15 GeV/c²)","titlePadding":9}},
"y2":{"datum":0}}},
{"data":{"name":"d_bins"},"mark":{"type":"line","interpolate":"step-after","color":"#231f20","strokeWidth":1.6},"encoding":{"x":{"field":"lo","type":"quantitative"},"y":{"field":"n","type":"quantitative"}}},
{"data":{"name":"d_curve"},"mark":{"type":"line","interpolate":"monotone","color":"#231f20","strokeWidth":2.4},"encoding":{"x":{"field":"g","type":"quantitative"},"y":{"field":"sb","type":"quantitative"}}},
{"data":{"name":"d_curve"},"mark":{"type":"line","interpolate":"monotone","color":"#231f20","strokeWidth":2.4},"encoding":{"x":{"field":"g","type":"quantitative"},"y":{"field":"b","type":"quantitative"}}},
{"data":{"values":[{}]},"mark":{"type":"text","text":"0-tag: 40 events","font":"Liberation Serif","fontSize":21,"color":"#231f20","align":"center","baseline":"alphabetic"},"encoding":{"x":{"datum":295.7,"type":"quantitative"},"y":{"datum":8.19,"type":"quantitative"}}},
{"data":{"values":[{}]},"mark":{"type":"text","text":"d","font":"Liberation Serif","fontSize":21,"fontStyle":"italic","color":"#231f20","align":"right","baseline":"alphabetic"},"encoding":{"x":{"datum":403.2,"type":"quantitative"},"y":{"datum":7.04,"type":"quantitative"}}}
]}
]}
]
}
